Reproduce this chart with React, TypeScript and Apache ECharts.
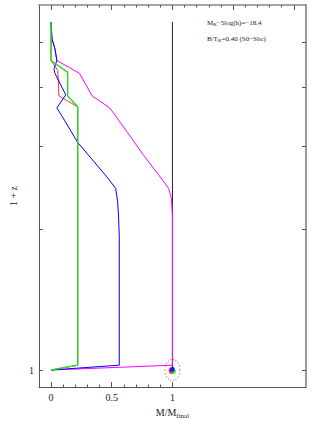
import React, { useEffect, useRef } from "react";
import * as echarts from "echarts";

// tick values
const xTicksBottomMinor = [0, 0.1, 0.2, 0.3, 0.4, 0.5, 0.6, 0.7, 0.8, 0.9, 1.0];
const xTicksBottomMajor = [0, 0.5, 1];
const xTicksTopMinor = [0, 0.1, 0.2, 0.3, 0.4, 0.5, 0.6, 0.7, 0.8, 0.9, 1.0, 1.1, 1.2, 1.3, 1.4, 1.5, 1.6, 1.7, 1.8, 1.9, 2.0];
const xTicksTopMajor = [0, 0.5, 1, 1.5, 2];
const xLabels = [0, 0.5, 1];
const yTicks = [1, 2, 3, 4, 5]; // 1+z
const yLabels = [1];

// curves: M/Mfinal vs 1+z
const blackX = [1, 1];
const blackZ = [5.52, 1.0];

const magentaX = [0, 0.008, 0.032, 0.048, 0.234, 0.339, 0.484, 0.629, 0.758, 0.919, 0.968, 0.992, 1.0, 1.0, 0];
const magentaZ = [5.52, 5.08, 4.84, 4.57, 4.29, 3.84, 3.62, 3.21, 2.88, 2.54, 2.44, 2.32, 2.13, 1.024, 1.0];

const redX = [0, 0, 0.056, 0.065, 0.22, 0.22, 0];
const redZ = [5.52, 4.57, 4.35, 3.84, 3.64, 1.024, 1.0];

const blueX = [0, 0.008, 0.032, 0.048, 0.024, 0.032, 0.121, 0.048, 0.113, 0.218, 0.46, 0.532, 0.548, 0.556, 0.562, 0.562, 0];
const blueZ = [5.52, 5.08, 4.84, 4.57, 4.39, 4.29, 3.86, 3.62, 3.40, 3.06, 2.58, 2.44, 2.29, 2.13, 1.93, 1.024, 1.0];

const greenX = [0, 0, 0.137, 0.137, 0.22, 0.22, 0];
const greenZ = [5.52, 4.57, 4.31, 3.84, 3.64, 1.024, 1.0];

const finalX = [1];
const finalZ = [1];

const pairs = (xs: number[], zs: number[]) => xs.map((x, i) => [x, Math.log10(zs[i])]);

const FONT = "Liberation Serif";

export default function App() {
  const ref = useRef<HTMLDivElement>(null);
  useEffect(() => {
    if (!ref.current) return;
    const chart = echarts.init(ref.current, null, { renderer: "svg" });
    const lineBase = (name: string, xs: number[], zs: number[], color: string, w = 1) => ({
      name,
      type: "line",
      data: pairs(xs, zs),
      symbol: "none",
      lineStyle: { color, width: w },
      itemStyle: { color },
      z: 3,
    });
    const dot = (color: string, off: number[], size: number) => ({
      type: "scatter",
      data: pairs(finalX, finalZ),
      symbol: "circle",
      symbolSize: size,
      symbolOffset: off,
      itemStyle: { color },
      z: 5,
    });
    const axisLineStyle = { show: true, onZero: false, lineStyle: { color: "#555", width: 1 } };
    const noLine = { show: false, onZero: false };
    const xBase = {
      type: "value",
      min: -0.1,
      max: 2.1,
      splitLine: { show: false },
    };
    const yBase = {
      type: "value",
      min: Math.log10(0.92),
      max: Math.log10(6),
      splitLine: { show: false },
    };
    chart.setOption({
      animation: false,
      backgroundColor: "#ffffff",
      grid: { left: 33, right: 8, top: 5, bottom: 31, containLabel: false },
      xAxis: [
        {
          ...xBase,
          position: "bottom",
          axisLine: axisLineStyle,
          axisTick: { show: true, inside: true, length: 2.5, customValues: xTicksBottomMinor, lineStyle: { color: "#555" } },
          axisLabel: {
            show: true,
            customValues: xLabels,
            margin: 5,
            fontFamily: FONT,
            fontSize: 10,
            color: "#222",
            formatter: (v: number) => String(v),
          },
          name: "M/M{sub|final}",
          nameLocation: "middle",
          nameGap: 19,
          nameTextStyle: {
            fontFamily: FONT,
            fontSize: 10,
            color: "#222",
            rich: { sub: { fontFamily: FONT, fontSize: 7, color: "#222", padding: [6, 0, 0, 0] } },
          },
        },
        {
          ...xBase,
          position: "bottom",
          axisLine: noLine,
          axisTick: { show: true, inside: true, length: 5, customValues: xTicksBottomMajor, lineStyle: { color: "#555" } },
          axisLabel: { show: false },
        },
        {
          ...xBase,
          position: "top",
          axisLine: { show: true, onZero: false, lineStyle: { color: "#888", width: 1.5 } },
          axisTick: { show: true, inside: true, length: 2.5, customValues: xTicksTopMinor, lineStyle: { color: "#555" } },
          axisLabel: { show: false },
        },
        {
          ...xBase,
          position: "top",
          axisLine: noLine,
          axisTick: { show: true, inside: true, length: 5, customValues: xTicksTopMajor, lineStyle: { color: "#555" } },
          axisLabel: { show: false },
        },
      ],
      yAxis: [
        {
          ...yBase,
          position: "left",
          axisLine: axisLineStyle,
          axisTick: { show: true, inside: true, length: 4, customValues: yTicks.map((v) => Math.log10(v)), lineStyle: { color: "#555" } },
          axisLabel: {
            show: true,
            customValues: yLabels.map((v) => Math.log10(v)),
            margin: 5,
            fontFamily: FONT,
            fontSize: 10,
            color: "#222",
            formatter: (v: number) => String(Math.round(Math.pow(10, v))),
          },
          name: "1 + z",
          nameLocation: "middle",
          nameGap: 9,
          nameRotate: 90,
          nameTextStyle: { fontFamily: FONT, fontSize: 10, color: "#222" },
        },
        {
          ...yBase,
          position: "right",
          axisLine: { show: true, onZero: false, lineStyle: { color: "#999", width: 2 } },
          axisTick: { show: true, inside: true, length: 4, customValues: yTicks.map((v) => Math.log10(v)), lineStyle: { color: "#555" } },
          axisLabel: { show: false },
        },
      ],
      graphic: [
        {
          type: "text",
          left: 207,
          top: 19,
          style: {
            text: "M{sub|K}−5log(h)=−18.4",
            fontFamily: FONT,
            fontSize: 7,
            fill: "#222",
            rich: { sub: { fontFamily: FONT, fontSize: 5, fill: "#222", padding: [4, 0, 0, 0] } },
          },
        },
        {
          type: "text",
          left: 207,
          top: 35,
          style: {
            text: "B/T{sub|K}=0.40 (S0−Sbc)",
            fontFamily: FONT,
            fontSize: 7,
            fill: "#222",
            rich: { sub: { fontFamily: FONT, fontSize: 5, fill: "#222", padding: [4, 0, 0, 0] } },
          },
        },
      ],
      series: [
        lineBase("black", blackX, blackZ, "#222"),
        lineBase("magenta", magentaX, magentaZ, "#ff00ff"),
        lineBase("red", redX, redZ, "#ff0000", 0.8),
        lineBase("blue", blueX, blueZ, "#0000ff"),
        lineBase("green", greenX, greenZ, "#22dd22", 1.4),
        {
          type: "scatter",
          data: pairs(finalX, finalZ),
          symbol: "circle",
          symbolSize: [15, 21],
          itemStyle: { color: "transparent", borderColor: "#555", borderWidth: 1, borderType: [1, 2] },
          z: 4,
        },
        dot("#ff00ff", [-1.5, 0], 5),
        dot("#ff0000", [-1, 1.5], 5),
        dot("#22dd22", [1, 1.5], 5),
        dot("#0000ff", [0, -0.8], 5),
      ],
    });
    return () => chart.dispose();
  }, []);
  return <div ref={ref} style={{ width: 314, height: 424, position: "absolute", left: 0, top: 0 }} />;
}
